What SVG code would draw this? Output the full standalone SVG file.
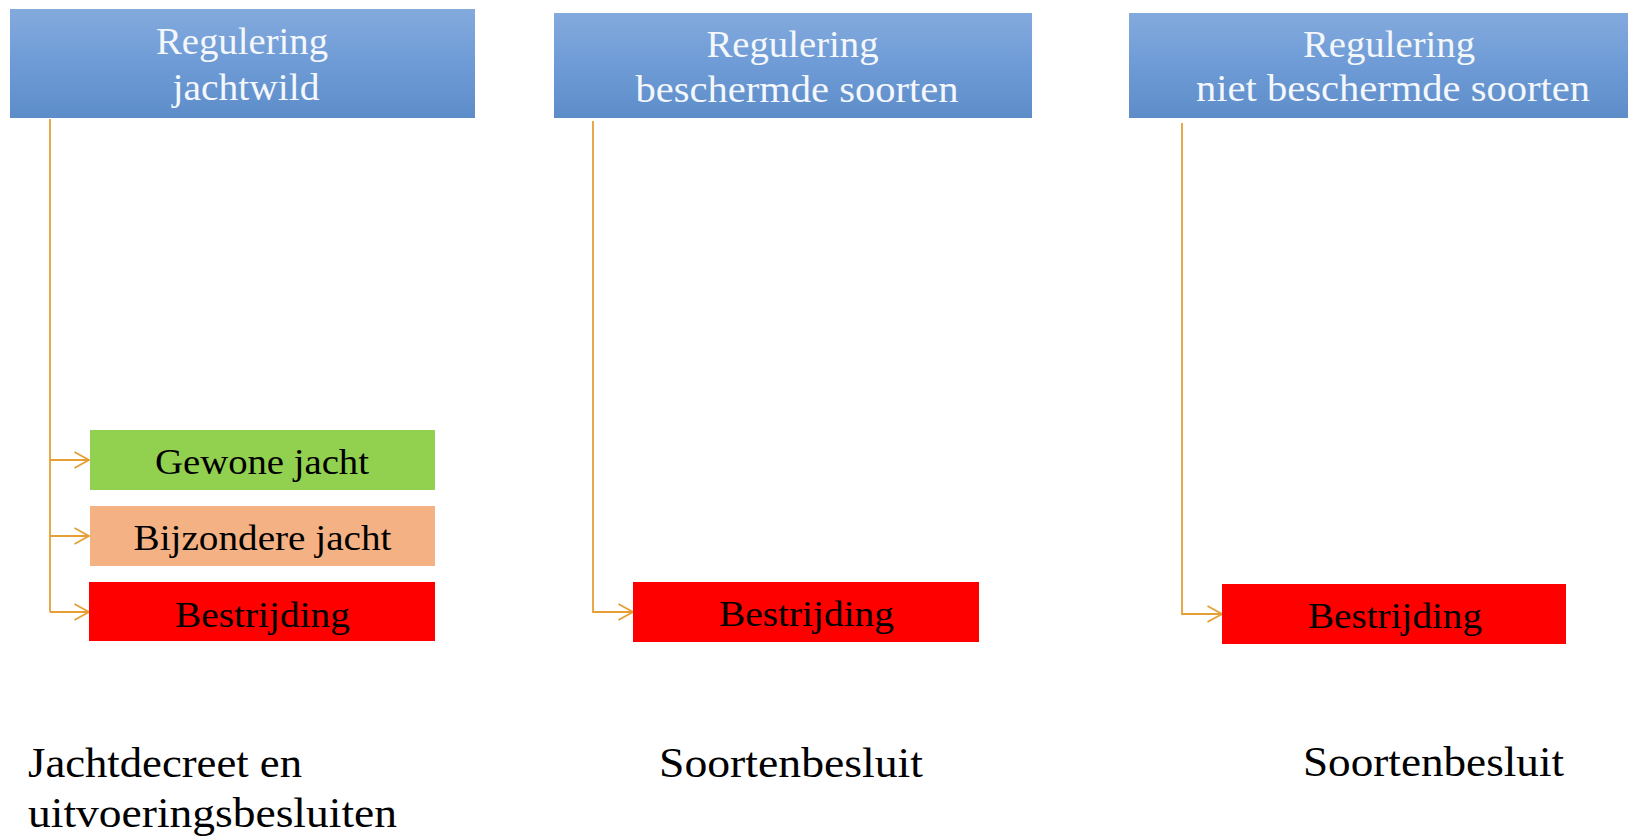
<svg xmlns="http://www.w3.org/2000/svg" width="1628" height="837" viewBox="0 0 1628 837">
  <defs>
    <linearGradient id="hdr" x1="0" y1="0" x2="0" y2="1">
      <stop offset="0" stop-color="#83AADD"/>
      <stop offset="0.5" stop-color="#6E9BD6"/>
      <stop offset="1" stop-color="#5D8DC9"/>
    </linearGradient>
    <marker id="arr" markerUnits="userSpaceOnUse" markerWidth="18" markerHeight="20" refX="15" refY="9" orient="auto">
      <path d="M0.5,1 L15,9 L0.5,17" fill="none" stroke="#E59F35" stroke-width="1.8"/>
    </marker>
  </defs>
  <style>
    .hdr { fill: url(#hdr); }
    .ht { font-family: "Liberation Serif", "Times New Roman", serif; font-size: 37px; fill: #F4F7FB; text-anchor: middle; }
    .bt { font-family: "Liberation Serif", "Times New Roman", serif; font-size: 36px; fill: #000; text-anchor: middle; }
    .lt { font-family: "Liberation Serif", "Times New Roman", serif; font-size: 42px; fill: #000; }
    .con { fill: none; stroke: #E59F35; stroke-width: 1.8; }
  </style>
  <rect width="1628" height="837" fill="#FFFFFF"/>

  <g id="connectors">
    <path class="con" d="M50,119 V612" stroke-width="2.2"/>
    <path class="con" d="M50,460 H89" marker-end="url(#arr)"/>
    <path class="con" d="M50,536 H89" marker-end="url(#arr)"/>
    <path class="con" d="M50,612 H89" marker-end="url(#arr)"/>
    <path class="con" d="M593,121 V612 H633" marker-end="url(#arr)"/>
    <path class="con" d="M1182,123 V614 H1222" marker-end="url(#arr)"/>
  </g>

  <g id="hdr-jachtwild">
    <rect class="hdr" x="10" y="9" width="465" height="109"/>
    <text class="ht" x="242" y="54" textLength="172" lengthAdjust="spacingAndGlyphs">Regulering</text>
    <text class="ht" x="246" y="100" textLength="147" lengthAdjust="spacingAndGlyphs">jachtwild</text>
  </g>
  <g id="hdr-beschermd">
    <rect class="hdr" x="554" y="13" width="478" height="105"/>
    <text class="ht" x="792.5" y="57" textLength="172" lengthAdjust="spacingAndGlyphs">Regulering</text>
    <text class="ht" x="797" y="102" textLength="323" lengthAdjust="spacingAndGlyphs">beschermde soorten</text>
  </g>
  <g id="hdr-nietbeschermd">
    <rect class="hdr" x="1129" y="13" width="499" height="105"/>
    <text class="ht" x="1389" y="57" textLength="172" lengthAdjust="spacingAndGlyphs">Regulering</text>
    <text class="ht" x="1393" y="101" textLength="394" lengthAdjust="spacingAndGlyphs">niet beschermde soorten</text>
  </g>

  <g id="gewone-jacht">
    <rect x="90" y="430" width="345" height="60" fill="#92D050"/>
    <text class="bt" x="262" y="474" textLength="214" lengthAdjust="spacingAndGlyphs">Gewone jacht</text>
  </g>
  <g id="bijzondere-jacht">
    <rect x="90" y="506" width="345" height="60" fill="#F4B183"/>
    <text class="bt" x="262.5" y="550" textLength="258" lengthAdjust="spacingAndGlyphs">Bijzondere jacht</text>
  </g>
  <g id="bestrijding-1">
    <rect x="89" y="582" width="346" height="59" fill="#FF0000"/>
    <text class="bt" x="262.5" y="627" textLength="175" lengthAdjust="spacingAndGlyphs">Bestrijding</text>
  </g>
  <g id="bestrijding-2">
    <rect x="633" y="582" width="346" height="60" fill="#FF0000"/>
    <text class="bt" x="806.5" y="626" textLength="175" lengthAdjust="spacingAndGlyphs">Bestrijding</text>
  </g>
  <g id="bestrijding-3">
    <rect x="1222" y="584" width="344" height="60" fill="#FF0000"/>
    <text class="bt" x="1395" y="628" textLength="174" lengthAdjust="spacingAndGlyphs">Bestrijding</text>
  </g>

  <g id="label-jachtdecreet">
    <text class="lt" x="28" y="777" textLength="274" lengthAdjust="spacingAndGlyphs">Jachtdecreet en</text>
    <text class="lt" x="28" y="827" textLength="369" lengthAdjust="spacingAndGlyphs">uitvoeringsbesluiten</text>
  </g>
  <g id="label-soortenbesluit-1">
    <text class="lt" x="659" y="777" textLength="264" lengthAdjust="spacingAndGlyphs">Soortenbesluit</text>
  </g>
  <g id="label-soortenbesluit-2">
    <text class="lt" x="1303" y="776" textLength="261" lengthAdjust="spacingAndGlyphs">Soortenbesluit</text>
  </g>
</svg>
